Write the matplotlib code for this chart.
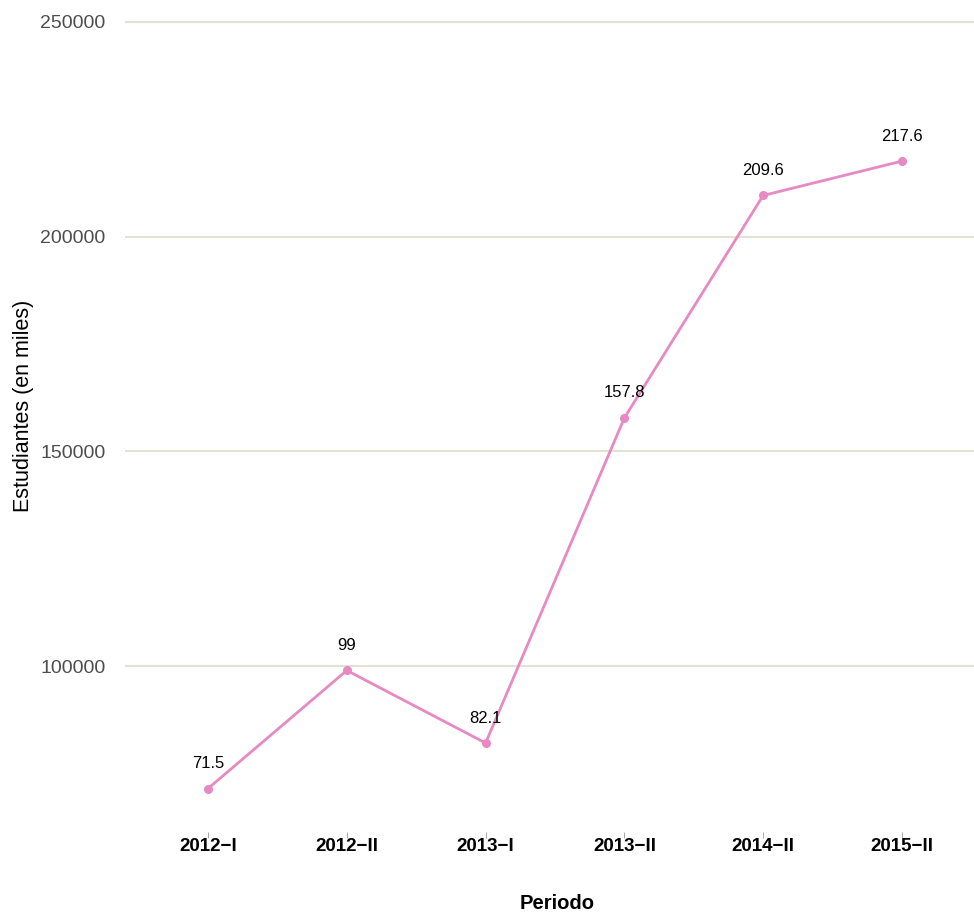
import matplotlib.pyplot as plt

periods = ["2012\u2212I", "2012\u2212II", "2013\u2212I", "2013\u2212II", "2014\u2212II", "2015\u2212II"]
students = [71500, 99000, 82100, 157800, 209600, 217600]
y_ticks = [100000, 150000, 200000, 250000]

plt.rcParams["font.family"] = ["Liberation Sans", "DejaVu Sans"]

W, H = 974, 913
fig = plt.figure(figsize=(W / 100, H / 100), dpi=100)
# panel placed in pixel coords to follow the reference
left, right, top, bottom = 125, 974, 5, 832
ax = fig.add_axes([left / W, 1 - bottom / H, (right - left) / W, (bottom - top) / H])

pink = "#e78ac3"
x = list(range(len(periods)))
ax.plot(x, students, color=pink, lw=2.0, marker="o", markersize=5.5, zorder=3)

for xi, v in zip(x, students):
    ax.annotate(f"{v / 1000:g}", (xi, v), xytext=(0, 18), textcoords="offset points",
                ha="center", va="center", fontsize=12, color="black")

ax.set_xlim(-0.598, 5.519)
ax.set_ylim(61380, 253950)
ax.set_xticks(x)
ax.set_xticklabels(periods, fontsize=13.5, fontweight="bold", color="black")
ax.set_yticks(y_ticks)
ax.set_yticklabels([str(t) for t in y_ticks], fontsize=14, color="#4d4d4d")
ax.tick_params(axis="x", length=4, width=0.6, color="#999999", pad=0)
ax.tick_params(axis="y", length=0, pad=14)

ax.grid(axis="y", color="#dedbcc", lw=1.2)
ax.set_axisbelow(True)
for s in ax.spines.values():
    s.set_visible(False)

fig.text(557 / W, 1 - 903 / H, "Periodo", ha="center", va="center",
         fontsize=14.5, fontweight="bold")
fig.text(24 / W, 1 - 406 / H, "Estudiantes (en miles)", ha="center", va="center",
         rotation=90, fontsize=15.5)

fig.savefig("out.png", dpi=100)
